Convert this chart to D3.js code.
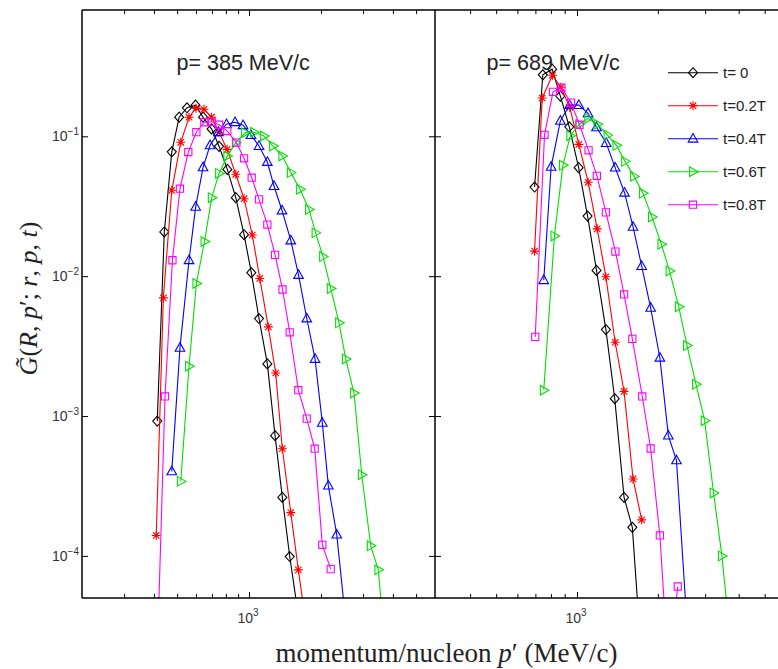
<!DOCTYPE html>
<html>
<head>
<meta charset="utf-8">
<script src="https://cdn.jsdelivr.net/npm/d3@7"></script>
<style>
  html, body { margin: 0; padding: 0; background: #fff; }
  svg { display: block; }
</style>
</head>
<body>
<svg id="chart" width="778" height="669"></svg>
<script>
// ---- data: momentum/nucleon p' (MeV/c) and G~ values ----
const seriesNames = ["t= 0", "t=0.2T", "t=0.4T", "t=0.6T", "t=0.8T"];
const panelTitles = ["p= 385 MeV/c", "p= 689 MeV/c"];
const yTickValues = [1e-1, 1e-2, 1e-3, 1e-4];
const yTickExponents = ["\u22121", "\u22122", "\u22123", "\u22124"];
const xMajorTicks = [1000];
const xMajorExponent = "3";
const leftMinorTicks = [300, 400, 500, 600, 700, 800, 900, 2000, 3000, 4000, 5000];
const rightMinorTicks = [400, 500, 600, 700, 800, 900, 2000, 3000, 4000, 5000];

// p = 385 MeV/c
const p385_t0 = [[413,9.2e-4],[442,0.0207],[475,0.0774],[510,0.137],[550,0.160],[597,0.167],[642,0.137],[697,0.113],[749,0.0848],[811,0.058],[880,0.0364],[953,0.0198],[1022,0.0106],[1101,0.00498],[1193,0.00236],[1285,7.24e-4],[1378,2.62e-4],[1480,9.9e-5],[1596,4.1e-5]];
const p385_t02 = [[409,1.40e-4],[438,7.0e-3],[475,0.0411],[518,0.0906],[561,0.137],[600,0.159],[648,0.156],[697,0.137],[749,0.107],[809,0.0807],[880,0.0535],[953,0.0358],[1032,0.0197],[1109,0.00963],[1204,0.00434],[1293,0.00203],[1378,5.84e-4],[1495,2.04e-4],[1608,7.95e-5],[1732,3.2e-5]];
const p385_t04 = [[475,4.02e-4],[514,3.07e-3],[561,0.0130],[598,0.0313],[642,0.0600],[687,0.0862],[745,0.107],[805,0.122],[874,0.126],[944,0.120],[1019,0.102],[1101,0.0852],[1193,0.0655],[1272,0.0441],[1374,0.0295],[1495,0.0180],[1611,0.0102],[1744,0.00498],[1889,0.00256],[2026,8.93e-4],[2147,3.18e-4],[2328,1.42e-4],[2522,3.8e-5]];
const p385_t06 = [[518,3.41e-4],[561,2.27e-3],[602,8.87e-3],[651,0.0177],[698,0.0364],[749,0.0543],[811,0.0723],[880,0.0901],[962,0.106],[1049,0.107],[1155,0.1005],[1260,0.0852],[1378,0.0723],[1495,0.0550],[1635,0.0418],[1782,0.0300],[1898,0.0204],[2040,0.0138],[2197,0.00817],[2380,0.00464],[2539,0.00256],[2750,0.00146],[2962,3.81e-4],[3230,1.18e-4],[3475,7.95e-5],[3707,2.2e-5]];
const p385_t08 = [[414,2.2e-5],[445,1.38e-3],[478,0.0130],[514,0.0422],[557,0.0772],[602,0.107],[650,0.126],[698,0.127],[749,0.121],[811,0.109],[885,0.0901],[953,0.0696],[1026,0.0506],[1101,0.0354],[1193,0.0234],[1285,0.0142],[1381,0.00803],[1480,0.00397],[1608,0.00153],[1744,9.58e-4],[1883,5.84e-4],[2026,1.20e-4],[2197,8.04e-5]];

// p = 689 MeV/c
const p689_t0 = [[695,0.0434],[746,0.275],[808,0.302],[867,0.194],[936,0.117],[1014,0.0597],[1095,0.0269],[1182,0.0110],[1281,0.00415],[1382,0.00133],[1497,2.62e-4],[1607,1.60e-4],[1730,2.1e-5]];
const p689_t02 = [[695,0.0151],[742,0.188],[810,0.273],[871,0.224],[940,0.161],[1016,0.0876],[1101,0.0469],[1189,0.0218],[1281,0.0099],[1387,0.00337],[1497,0.00150],[1617,3.55e-4],[1741,1.81e-4]];
const p689_t04 = [[752,0.00936],[801,0.0605],[867,0.129],[939,0.167],[1016,0.167],[1099,0.146],[1182,0.116],[1284,0.0895],[1387,0.0597],[1503,0.0395],[1617,0.0225],[1741,0.0118],[1880,0.00594],[2035,0.00261],[2188,7.24e-4],[2346,4.82e-4],[2561,3.5e-5]];
const p689_t06 = [[752,0.00153],[824,0.0194],[886,0.0620],[944,0.101],[1020,0.122],[1101,0.1345],[1192,0.122],[1298,0.102],[1402,0.0862],[1510,0.0662],[1630,0.0517],[1760,0.0391],[1901,0.0265],[2061,0.0169],[2210,0.0109],[2393,0.00604],[2568,0.00319],[2773,0.00169],[2987,9.27e-4],[3225,2.82e-4],[3462,1.0e-4],[3729,2.5e-5]];
const p689_t08 = [[699,0.00368],[757,0.1025],[814,0.208],[875,0.2225],[950,0.174],[1022,0.121],[1104,0.0794],[1186,0.0522],[1281,0.0286],[1390,0.0150],[1497,0.0074],[1607,0.00356],[1750,0.00138],[1880,5.86e-4],[2035,1.40e-4],[2197,1.39e-5],[2372,6.04e-5]];

// ---- styling ----
const colors = ["#000000", "#ff0000", "#0000ff", "#00e000", "#ff00ff"];
const markerPaths = [
  "M0,-5L4.5,0L0,5L-4.5,0Z",                                   // diamond
  "M-4.5,0H4.5M0,-4.5V4.5M-3.2,-3.2L3.2,3.2M-3.2,3.2L3.2,-3.2", // asterisk
  "M0,-5.2L4.8,3.4L-4.8,3.4Z",                                 // triangle up
  "M5.2,0L-3.4,-4.8L-3.4,4.8Z",                                // triangle right
  "M-3.6,-3.6H3.6V3.6H-3.6Z"                                   // square
];
const SANS = "'Liberation Sans', Arial, Helvetica, sans-serif";
const SERIF = "'Liberation Serif', 'Times New Roman', serif";

// ---- layout ----
const frame = { left: 82, top: 10, bottom: 598, split: 435, right: 786 };

const svg = d3.select("#chart");

const y = d3.scaleLog().domain([5e-5, 0.8]).range([frame.bottom, frame.top]);
const xL = d3.scaleLog().domain([200, 6000]).range([frame.left, frame.split]);
const xR = d3.scaleLog().domain([296, 6000]).range([frame.split, frame.right]);

const panels = [
  { id: "pl", x: xL, x0: frame.left, x1: frame.split, title: panelTitles[0], titleX: 176.5,
    minor: leftMinorTicks, series: [p385_t0, p385_t02, p385_t04, p385_t06, p385_t08] },
  { id: "pr", x: xR, x0: frame.split, x1: frame.right, title: panelTitles[1], titleX: 486.5,
    minor: rightMinorTicks, series: [p689_t0, p689_t02, p689_t04, p689_t06, p689_t08] }
];

const defs = svg.append("defs");

panels.forEach(p => {
  defs.append("clipPath").attr("id", "clip-" + p.id)
    .append("rect")
    .attr("x", p.x0).attr("y", frame.top)
    .attr("width", p.x1 - p.x0).attr("height", frame.bottom - frame.top);

  // bottom and top x-axis ticks (pointing inward)
  const tickGroups = [
    { axis: d3.axisBottom, ty: frame.bottom },
    { axis: d3.axisTop, ty: frame.top }
  ];
  tickGroups.forEach(t => {
    const gMinor = svg.append("g").attr("transform", `translate(0,${t.ty})`)
      .call(t.axis(p.x).tickValues(p.minor).tickSize(-4).tickFormat(""));
    const gMajor = svg.append("g").attr("transform", `translate(0,${t.ty})`)
      .call(t.axis(p.x).tickValues(xMajorTicks).tickSize(-6).tickFormat(""));
    [gMinor, gMajor].forEach(g => {
      g.select(".domain").remove();
      g.selectAll(".tick line").attr("stroke", "#000").attr("stroke-width", 1);
    });
  });

  // x tick label 10^3
  xMajorTicks.forEach(v => {
    const t = svg.append("text")
      .attr("x", p.x(v) - 1).attr("y", 623)
      .attr("text-anchor", "middle")
      .attr("font-family", SANS).attr("font-size", 14).attr("fill", "#333");
    t.append("tspan").text("10");
    t.append("tspan").attr("dy", -7).attr("font-size", 10).text(xMajorExponent);
  });
});

// y ticks: left axis, and both sides of the divider
[
  { axis: d3.axisLeft, tx: frame.left },
  { axis: d3.axisLeft, tx: frame.split },
  { axis: d3.axisRight, tx: frame.split }
].forEach(a => {
  const g = svg.append("g").attr("transform", `translate(${a.tx},0)`)
    .call(a.axis(y).tickValues(yTickValues).tickSize(-6).tickFormat(""));
  g.select(".domain").remove();
  g.selectAll(".tick line").attr("stroke", "#000").attr("stroke-width", 1);
});

// y tick labels 10^-n
yTickValues.forEach((v, i) => {
  const t = svg.append("text")
    .attr("x", 79).attr("y", y(v) + 5)
    .attr("text-anchor", "end")
    .attr("font-family", SANS).attr("font-size", 14).attr("fill", "#333");
  t.append("tspan").text("10");
  t.append("tspan").attr("dy", -6).attr("font-size", 10).text(yTickExponents[i]);
});

// curves
const line = (x) => d3.line().x(d => x(d[0])).y(d => y(d[1]));

panels.forEach(p => {
  const g = svg.append("g").attr("clip-path", `url(#clip-${p.id})`);
  p.series.forEach((data, i) => {
    const s = g.append("g");
    s.append("path")
      .datum(data)
      .attr("d", line(p.x))
      .attr("fill", "none")
      .attr("stroke", colors[i])
      .attr("stroke-width", 1.1);
    s.selectAll("path.m")
      .data(data)
      .join("path")
      .attr("class", "m")
      .attr("transform", d => `translate(${p.x(d[0])},${y(d[1])})`)
      .attr("d", markerPaths[i])
      .attr("fill", "none")
      .attr("stroke", colors[i])
      .attr("stroke-width", 1.1);
  });

  svg.append("text")
    .attr("x", p.titleX).attr("y", 70)
    .attr("font-family", SANS).attr("font-size", 21.5).attr("fill", "#222")
    .text(p.title);
});

// frame
const frameG = svg.append("g").attr("stroke", "#000").attr("stroke-width", 1.5).attr("fill", "none");
frameG.append("line").attr("x1", frame.left).attr("x2", 778).attr("y1", frame.top).attr("y2", frame.top);
frameG.append("line").attr("x1", frame.left).attr("x2", 778).attr("y1", frame.bottom).attr("y2", frame.bottom);
frameG.append("line").attr("x1", frame.left).attr("x2", frame.left).attr("y1", frame.top).attr("y2", frame.bottom);
frameG.append("line").attr("x1", frame.split).attr("x2", frame.split).attr("y1", frame.top).attr("y2", frame.bottom);

// legend
const legend = svg.append("g").attr("transform", "translate(668,72.7)");
seriesNames.forEach((name, i) => {
  const row = legend.append("g").attr("transform", `translate(0,${i * 33})`);
  row.append("line").attr("x1", 0).attr("x2", 50).attr("y1", 0).attr("y2", 0)
    .attr("stroke", colors[i]).attr("stroke-width", 1.1);
  row.append("path").attr("transform", "translate(25,0)").attr("d", markerPaths[i])
    .attr("fill", "none").attr("stroke", colors[i]).attr("stroke-width", 1.1);
  row.append("text").attr("x", 55).attr("y", 5.5)
    .attr("font-family", SANS).attr("font-size", 15).attr("fill", "#222")
    .text(name);
});

// axis titles
const xl = svg.append("text")
  .attr("x", 446.5).attr("y", 662)
  .attr("text-anchor", "middle")
  .attr("font-family", SERIF).attr("font-size", 27).attr("fill", "#222");
xl.append("tspan").text("momentum/nucleon ");
xl.append("tspan").attr("font-style", "italic").text("p");
xl.append("tspan").text("\u2032 (MeV/c)");

const yl = svg.append("text")
  .attr("transform", "translate(37,298.5) rotate(-90)")
  .attr("text-anchor", "middle")
  .attr("font-family", SERIF).attr("font-size", 26).attr("fill", "#222");
yl.append("tspan").attr("font-style", "italic").text("G\u0303");
yl.append("tspan").text("(");
yl.append("tspan").attr("font-style", "italic").text("R");
yl.append("tspan").text(", ");
yl.append("tspan").attr("font-style", "italic").text("p");
yl.append("tspan").text("\u2032; ");
yl.append("tspan").attr("font-style", "italic").text("r");
yl.append("tspan").text(", ");
yl.append("tspan").attr("font-style", "italic").text("p");
yl.append("tspan").text(", ");
yl.append("tspan").attr("font-style", "italic").text("t");
yl.append("tspan").text(")");
</script>
</body>
</html>
